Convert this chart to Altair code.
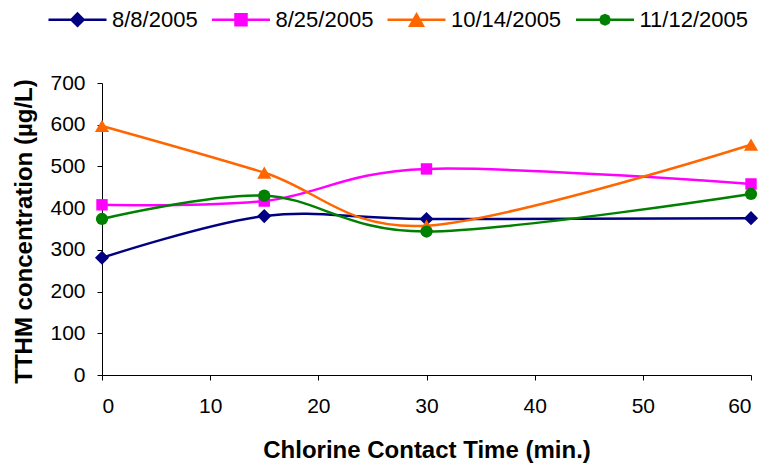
import altair as alt
import pandas as pd

times = [0, 15, 30, 60]
series_names = ["8/8/2005", "8/25/2005", "10/14/2005", "11/12/2005"]
values_0808 = [281, 381, 374, 376]
values_0825 = [408, 417, 494, 458]
values_1014 = [597, 485, 358, 552]
values_1112 = [374, 430, 344, 434]
colors = ["#000080", "#FF00FF", "#FF6600", "#008000"]
marker_shapes = ["diamond", "square", "triangle-up", "circle"]
marker_sizes = [200, 130, 200, 150]
x_ticks = [0, 10, 20, 30, 40, 50, 60]
y_ticks = [0, 100, 200, 300, 400, 500, 600, 700]

all_values = [values_0808, values_0825, values_1014, values_1112]
rows = []
for name, vals in zip(series_names, all_values):
    for t, v in zip(times, vals):
        rows.append({"series": name, "time": t, "value": v})
df = pd.DataFrame(rows)

# legend symbols: line segment plus marker (unit square coords)
legend_paths = [
    "M-1,0L1,0M0,-0.21L0.21,0L0,0.21L-0.21,0Z",
    "M-1,0L1,0M-0.19,-0.19L0.19,-0.19L0.19,0.19L-0.19,0.19Z",
    "M-1,0L1,0M0,-0.18L0.22,0.21L-0.22,0.21Z",
    "M-1,0L1,0M-0.16,0L-0.113,-0.113L0,-0.16L0.113,-0.113L0.16,0L0.113,0.113L0,0.16L-0.113,0.113Z",
]

FONT = "Liberation Sans"

x_enc = alt.X(
    "time:Q",
    scale=alt.Scale(domain=[0, 60], nice=False),
    axis=alt.Axis(
        values=x_ticks, title="Chlorine Contact Time (min.)", grid=False,
        tickSize=5, labelFontSize=21, labelPadding=15, titleFontSize=24,
        titleFontWeight="bold", titleY=75, titleBaseline="middle",
        domainColor="#000000", tickColor="#000000", labelColor="#000000",
        titleColor="#000000", labelFont=FONT, titleFont=FONT,
    ),
)
y_enc = alt.Y(
    "value:Q",
    scale=alt.Scale(domain=[0, 700], nice=False),
    axis=alt.Axis(
        values=y_ticks, title="TTHM concentration (µg/L)", grid=False,
        tickSize=5, labelFontSize=21, labelPadding=12, titleFontSize=24,
        titleFontWeight="bold", titleX=-78, titleY=148, titleAngle=-90,
        titleAlign="center", titleBaseline="middle",
        domainColor="#000000", tickColor="#000000", labelColor="#000000",
        titleColor="#000000", labelFont=FONT, titleFont=FONT,
    ),
)

base = alt.Chart(df)

series_layers = []
for name, col, shp, sz in zip(series_names, colors, marker_shapes, marker_sizes):
    sub = base.transform_filter(alt.datum.series == name)
    series_layers.append(
        sub.mark_line(interpolate="cardinal", strokeWidth=2.5, color=col).encode(
            x=x_enc, y=y_enc, order=alt.Order("time:Q")
        )
    )
    series_layers.append(
        sub.mark_point(shape=shp, filled=True, size=sz, opacity=1, color=col).encode(
            x=x_enc, y=y_enc
        )
    )

legend_def = alt.Legend(
    title=None, orient="none", legendX=-55, legendY=-94,
    direction="horizontal", symbolSize=3364, symbolStrokeWidth=2.5,
    symbolOpacity=1,
    labelFontSize=22, labelFont=FONT, labelColor="#000000",
    labelOffset=4, columnPadding=8.5, padding=0,
)

# legend-only layer: no marks drawn (all rows filtered out), scales have explicit domains
legend_layer = base.transform_filter("datum.value < 0").mark_point(
    filled=True, strokeWidth=2.5, opacity=1
).encode(
    x=x_enc, y=y_enc,
    shape=alt.Shape("series:N", scale=alt.Scale(domain=series_names, range=legend_paths), legend=legend_def),
    fill=alt.Fill("series:N", scale=alt.Scale(domain=series_names, range=colors), legend=legend_def),
    stroke=alt.Stroke("series:N", scale=alt.Scale(domain=series_names, range=colors), legend=legend_def),
)

chart = alt.layer(*series_layers, legend_layer).properties(
    width=649, height=292,
    autosize=alt.AutoSizeParams(type="none"),
    padding={"left": 102, "top": 83, "right": 19, "bottom": 92},
    background="white",
).configure_view(stroke=None)

chart.save("out.html", embed_options={"renderer": "svg", "actions": False})
